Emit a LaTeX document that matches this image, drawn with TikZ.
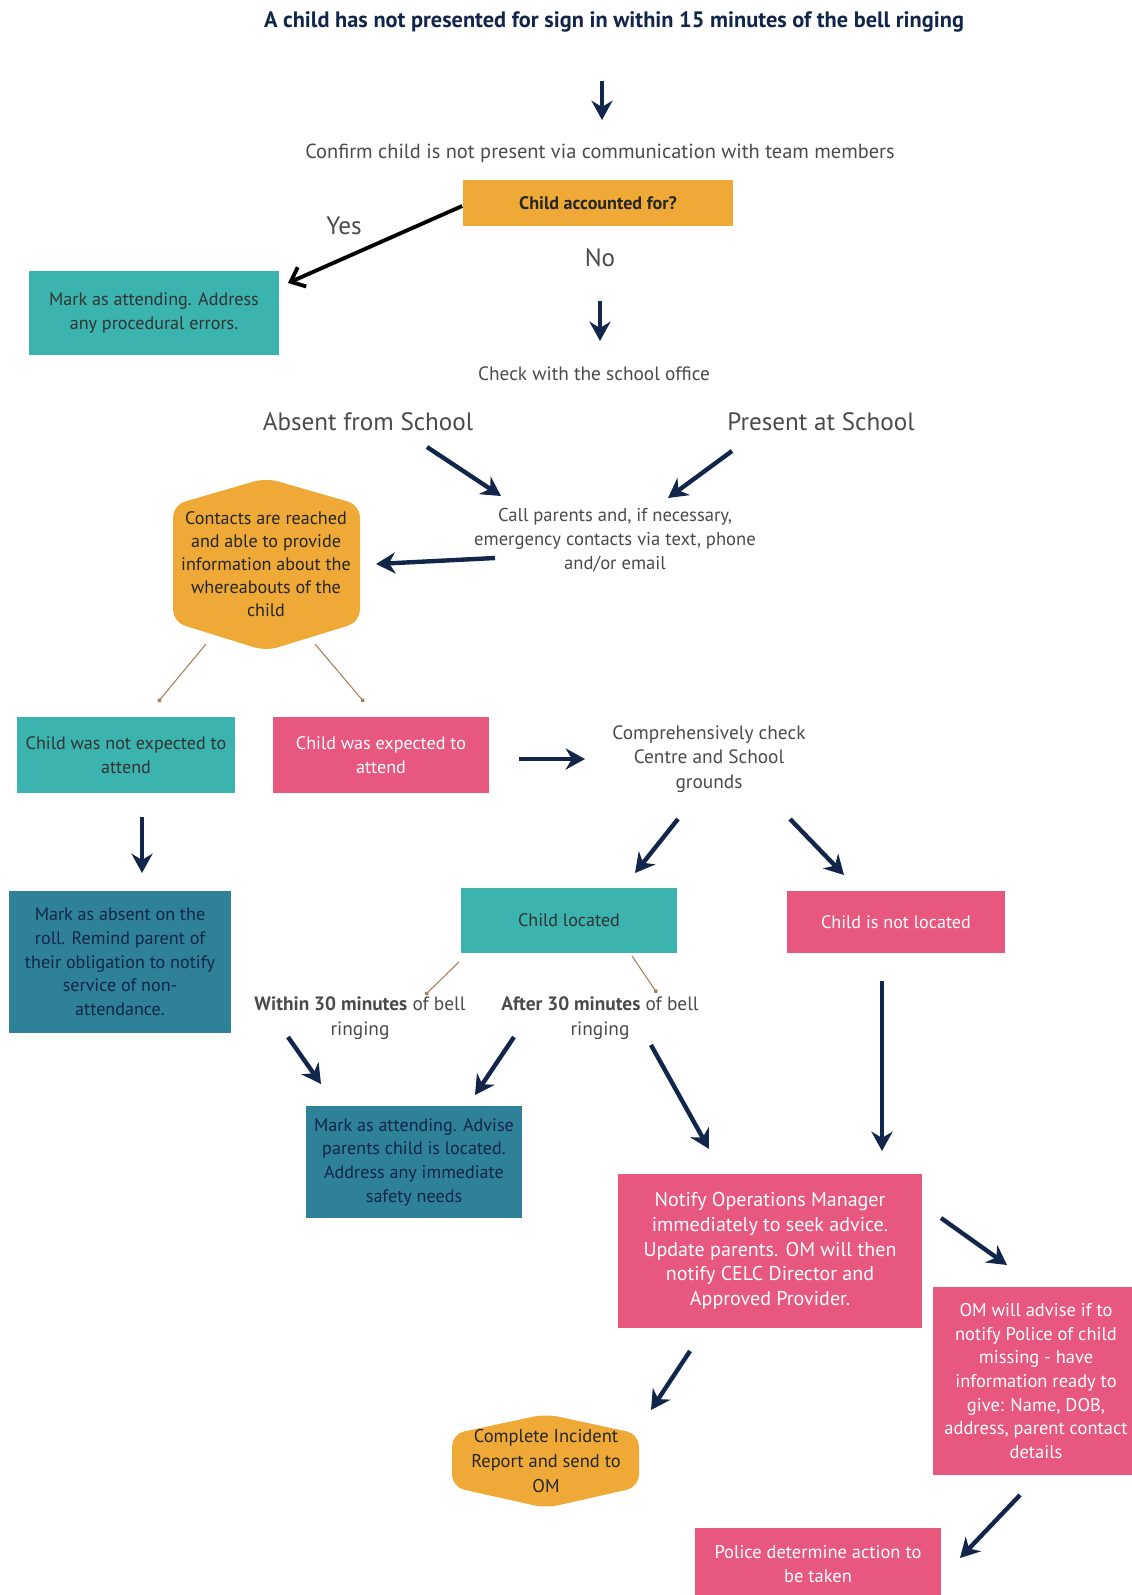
\documentclass[tikz,border=0pt]{standalone}
\usepackage{fontspec}
\setmainfont{PT Sans}
\usetikzlibrary{arrows.meta}
\definecolor{navy}{HTML}{12254A}
\definecolor{cteal}{HTML}{3BB3AE}
\definecolor{cdark}{HTML}{2E8197}
\definecolor{cpink}{HTML}{E8577E}
\definecolor{corange}{HTML}{EFA936}
\definecolor{cgray}{HTML}{4A4A4A}

\begin{document}
\begin{tikzpicture}[x=0.02cm, y=-0.02cm,
  every node/.style={align=center, inner sep=0pt},
  note/.style={text=cgray, font=\fontsize{11}{14}\selectfont},
  big/.style={text=cgray, font=\fontsize{14.3}{18}\selectfont},
  boxtxt/.style={font=\fontsize{10.3}{13.5}\selectfont},
  tealbox/.style={boxtxt, fill=cteal, text=black!80},
  darkbox/.style={boxtxt, fill=cdark, text=navy},
  pinkbox/.style={boxtxt, fill=cpink, text=white},
  orangebox/.style={boxtxt, fill=corange, text=black!85},
  arr/.style={navy, line width=2.5pt, -{Stealth[length=11pt,width=12pt]}},
  dotline/.style={draw=brown!55!gray, line width=0.6pt, -{Circle[length=2.5pt]}}
]
\clip (0,0) rectangle (1132,1595);

% top of the chart
\node[text=navy, font=\bfseries\fontsize{12.7}{15}\selectfont] (title) at (614,22)
  {A child has not presented for sign in within 15 minutes of the bell ringing};
\node[note, font=\fontsize{11.6}{14}\selectfont] (confirm) at (600,153)
  {Confirm child is not present via communication with team members};
\node[orangebox, minimum width=5.42cm, minimum height=0.92cm] (accounted) at (598,203)
  {\textbf{Child accounted for?}};
\node[big] (yes) at (344,226) {Yes};
\node[big] (no) at (600,258) {No};
\node[tealbox, minimum width=5.02cm, minimum height=1.70cm] (markatt) at (154,313)
  {Mark as attending. Address\\any procedural errors.};
\node[note] (office) at (594,374) {Check with the school office};

\coordinate (a1s) at (602,81);  \coordinate (a1e) at (602,120);
\coordinate (yese) at (288,283);
\coordinate (a2s) at (600,301); \coordinate (a2e) at (600,341);
\draw[arr] (a1s) -- (a1e);
\draw[black, line width=2.2pt, -{Straight Barb[length=7pt,width=12pt]}]
  (accounted.west) ++(0,3) -- (yese);
\draw[arr] (a2s) -- (a2e);

% calling the contacts
\node[big] (absentlbl) at (368,422) {Absent from School};
\node[big] (presentlbl) at (821,422) {Present at School};
\node[note, font=\fontsize{10.6}{13.5}\selectfont] (call) at (615,540)
  {Call parents and, if necessary,\\emergency contacts via text, phone\\and/or email};
\fill[corange, rounded corners=7pt] (266,478) -- (360,505) -- (360,622) -- (266,651)
  -- (173,622) -- (173,505) -- cycle;
\node[boxtxt, text=black!85, font=\fontsize{10.3}{13}\selectfont] (contacts) at (266,564)
  {Contacts are reached\\and able to provide\\information about the\\whereabouts of the\\child};

\coordinate (a3s) at (427,447); \coordinate (a3e) at (501,496);
\coordinate (a4s) at (732,451); \coordinate (a4e) at (668,498);
\coordinate (a5s) at (495,558); \coordinate (a5e) at (376,564);
\draw[arr] (a3s) -- (a3e);
\draw[arr] (a4s) -- (a4e);
\draw[arr] (a5s) -- (a5e);

% expected or not
\node[tealbox, minimum width=4.36cm, minimum height=1.52cm] (notexp) at (126,755)
  {Child was not expected to\\attend};
\node[pinkbox, minimum width=4.34cm, minimum height=1.52cm] (expected) at (381,755)
  {Child was expected to\\attend};
\node[note] (check) at (709,759) {Comprehensively check\\Centre and School\\grounds};
\node[darkbox, minimum width=4.44cm, minimum height=2.84cm] (markabs) at (120,962)
  {Mark as absent on the\\roll. Remind parent of\\their obligation to notify\\service of non-\\attendance.};

\coordinate (t1s) at (206,644); \coordinate (t1e) at (158,702);
\coordinate (t2s) at (315,644); \coordinate (t2e) at (364,702);
\draw[dotline] (t1s) -- (t1e);
\draw[dotline] (t2s) -- (t2e);
\coordinate (a6s) at (519,759); \coordinate (a6e) at (585,759);
\coordinate (a7s) at (142,817); \coordinate (a7e) at (142,873);
\draw[arr] (a6s) -- (a6e);
\draw[arr] (a7s) -- (a7e);

% searching the grounds
\node[tealbox, minimum width=4.32cm, minimum height=1.30cm] (located) at (569,920)
  {Child located};
\node[pinkbox, minimum width=4.36cm, minimum height=1.24cm] (notlocated) at (896,922)
  {Child is not located};
\node[note] (within) at (360,1018) {\textbf{Within 30 minutes} of bell\\ringing};
\node[note] (after) at (600,1018) {\textbf{After 30 minutes} of bell\\ringing};
\node[darkbox, minimum width=4.34cm, minimum height=2.24cm] (markloc) at (414,1162)
  {Mark as attending. Advise\\parents child is located.\\Address any immediate\\safety needs};

\coordinate (a8s) at (678,819); \coordinate (a8e) at (635,873);
\coordinate (a9s) at (790,819); \coordinate (a9e) at (844,875);
\draw[arr] (a8s) -- (a8e);
\draw[arr] (a9s) -- (a9e);
\coordinate (t3s) at (459,962); \coordinate (t3e) at (425,995);
\coordinate (t4s) at (632,956); \coordinate (t4e) at (657,993);
\draw[dotline] (t3s) -- (t3e);
\draw[dotline] (t4s) -- (t4e);
\coordinate (a10s) at (288,1037); \coordinate (a10e) at (321,1084);
\coordinate (a11s) at (514,1037); \coordinate (a11e) at (475,1095);
\coordinate (a12s) at (651,1045); \coordinate (a12e) at (709,1149);
\coordinate (a13s) at (882,981);  \coordinate (a13e) at (882,1151);
\draw[arr] (a10s) -- (a10e);
\draw[arr] (a11s) -- (a11e);
\draw[arr] (a12s) -- (a12e);
\draw[arr] (a13s) -- (a13e);

% child missing
\node[pinkbox, font=\fontsize{11.4}{14}\selectfont, minimum width=6.08cm, minimum height=3.08cm]
  (notify) at (770,1251)
  {Notify Operations Manager\\immediately to seek advice.\\Update parents. OM will then\\notify CELC Director and\\Approved Provider.};
\node[pinkbox, font=\fontsize{10.5}{13.5}\selectfont, minimum width=4.14cm, minimum height=3.76cm]
  (om) at (1036,1381)
  {OM will advise if to\\notify Police of child\\missing - have\\information ready to\\give: Name, DOB,\\address, parent contact\\details};
\fill[corange, rounded corners=7pt] (546,1414) -- (639,1434) -- (639,1487) -- (546,1508)
  -- (452,1487) -- (452,1434) -- cycle;
\node[boxtxt, font=\fontsize{10.5}{14}\selectfont, text=black!85] (report) at (546,1461)
  {Complete Incident\\Report and send to\\OM};
\node[pinkbox, font=\fontsize{10.5}{13.5}\selectfont, minimum width=4.92cm, minimum height=1.44cm]
  (police) at (818,1564) {Police determine action to\\be taken};

\coordinate (a14s) at (941,1218); \coordinate (a14e) at (1007,1265);
\coordinate (a15s) at (690,1351); \coordinate (a15e) at (651,1410);
\coordinate (a16s) at (1020,1495); \coordinate (a16e) at (960,1558);
\draw[arr] (a14s) -- (a14e);
\draw[arr] (a15s) -- (a15e);
\draw[arr] (a16s) -- (a16e);
\end{tikzpicture}
\end{document}
